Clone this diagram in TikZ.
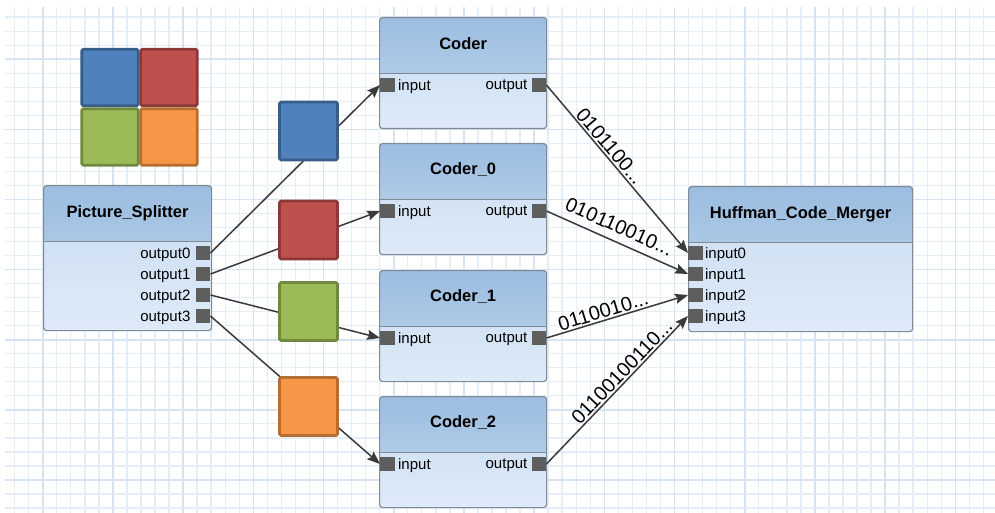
\documentclass[tikz,border=0pt]{standalone}
\usepackage{fontspec}
\setmainfont{Liberation Sans}
\usetikzlibrary{arrows.meta}
\definecolor{gridminor}{HTML}{E4EDF8}
\definecolor{gridmajor}{HTML}{D6E3F2}
\definecolor{hdtop}{HTML}{9BBDE0}
\definecolor{hdbot}{HTML}{C3D8EE}
\definecolor{bdtop}{HTML}{C8DCF1}
\definecolor{bdbot}{HTML}{DEEAF8}
\definecolor{boxline}{HTML}{7F8B97}
\definecolor{portgray}{HTML}{5E5E5E}
\definecolor{wirecol}{HTML}{3A3A3A}
\definecolor{sqblue}{HTML}{4F81BD}\definecolor{sqblueD}{HTML}{385D8A}
\definecolor{sqred}{HTML}{C0504D}\definecolor{sqredD}{HTML}{8C3836}
\definecolor{sqgreen}{HTML}{9BBB59}\definecolor{sqgreenD}{HTML}{71893F}
\definecolor{sqorange}{HTML}{F79646}\definecolor{sqorangeD}{HTML}{B66D31}
\tikzset{
  actor/.style={draw=boxline, line width=1.2pt, rounded corners=3pt, inner sep=0pt,
    anchor=north west, top color=bdtop, bottom color=bdbot,
    path picture={
      \shade[top color=hdtop, bottom color=hdbot] (path picture bounding box.north west)
        rectangle ([yshift=-56pt]path picture bounding box.north east);
      \draw[boxline, line width=1.2pt] ([yshift=-56pt]path picture bounding box.north west)
        -- ([yshift=-56pt]path picture bounding box.north east);}},
  actortitle/.style={font=\fontsize{16.5}{18}\selectfont\bfseries},
  port/.style={fill=portgray, minimum size=14.5pt, inner sep=0pt},
  portlabel/.style={font=\fontsize{15}{17}\selectfont, inner sep=0pt, yshift=-1.5pt},
  wire/.style={draw=wirecol, line width=1.5pt},
  bits/.style={sloped, above, inner sep=1.5pt, font=\fontsize{20}{23}\selectfont},
  tile/.style={line width=2.8pt, inner sep=0pt, rounded corners=1.5pt}
}
\begin{document}
\begin{tikzpicture}[x=1pt, y=-1pt, >={Stealth[length=13pt,width=10pt,inset=2pt]}, line join=round]
  \useasboundingbox (0,0) rectangle (995,513);
  \fill[white] (0,0) rectangle (995,513);
  \foreach \i in {0,...,69}
    \draw[gridminor, line width=1.4pt] ({14.6+14.04*\i},7) -- ({14.6+14.04*\i},513);
  \foreach \j in {0,...,35}
    \draw[gridminor, line width=1.4pt] (5,{17.2+14.02*\j}) -- (995,{17.2+14.02*\j});
  \foreach \i in {0,...,13}
    \draw[gridmajor, line width=1.6pt] ({42.7+70.2*\i},7) -- ({42.7+70.2*\i},513);
  \foreach \j in {0,...,6}
    \draw[gridmajor, line width=1.6pt] (5,{59.3+70.1*\j}) -- (995,{59.3+70.1*\j});

  \node[actor, minimum width=168pt, minimum height=145pt] (split) at (43,185) {};
  \node[actortitle] at ([yshift=-28pt]split.north) {Picture\_Splitter};
  \node[actor, minimum width=224pt, minimum height=145pt] (merge) at (688,186) {};
  \node[actortitle] at ([yshift=-28pt]merge.north) {Huffman\_Code\_Merger};
  \foreach \k/\y in {0/253,1/274,2/295,3/316} {
    \node[port] (split-o\k) at (203,\y) {};
    \node[portlabel, anchor=east] at ([xshift=-5pt]split-o\k.west) {output\k};
    \node[port] (merge-i\k) at (695.5,\y) {};
    \node[portlabel, anchor=west] at ([xshift=2pt]merge-i\k.east) {input\k};
  }
  \foreach \n/\t/\y/\p in {c/Coder/17/85, c0/Coder\_0/143/211, c1/Coder\_1/270/338, c2/Coder\_2/396/464} {
    \node[actor, minimum width=167pt, minimum height=111pt] (\n) at (379,\y) {};
    \node[actortitle] at ([yshift=-27pt]\n.north) {\t};
    \node[port] (\n-in) at (387.5,\p) {};
    \node[portlabel, anchor=west] at ([xshift=3pt]\n-in.east) {input};
    \node[port] (\n-out) at (539,\p) {};
    \node[portlabel, anchor=east] at ([xshift=-4pt]\n-out.west) {output};
  }

  \foreach \k/\n in {0/c,1/c0,2/c1,3/c2}
    \draw[wire, ->] (split-o\k.east) -- (\n-in.west);
  \draw[wire, ->] (c-out.east) -- node[bits, pos=0.40] {0101100...} (merge-i0.west);
  \draw[wire, ->] (c0-out.east) -- node[bits, pos=0.47, above=6pt] {010110010...} (merge-i1.west);
  \draw[wire, ->] (c1-out.east) -- node[bits, pos=0.42] {0110010...} (merge-i2.west);
  \draw[wire, ->] (c2-out.east) -- node[bits, pos=0.58] {01100100110...} (merge-i3.west);

  \foreach \c/\x/\y in {sqblue/110/77.5, sqred/169/77.5, sqgreen/110/137, sqorange/169/137}
    \node[tile, minimum size=56.5pt, fill=\c, draw=\c D] (quad-\c) at (\x,\y) {};
  \foreach \c/\y in {sqblue/131, sqred/230, sqgreen/311.5, sqorange/406.5}
    \node[tile, minimum size=58pt, fill=\c, draw=\c D] (tile-\c) at (308.5,\y) {};
\end{tikzpicture}
\end{document}
